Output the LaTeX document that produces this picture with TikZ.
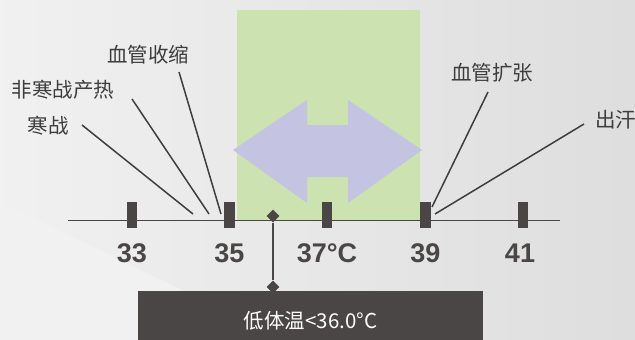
\documentclass[tikz,border=0pt]{standalone}
\usepackage{fontspec}
\setmainfont{Noto Sans CJK SC}
\newfontfamily\numfont{Liberation Sans}
\usepackage{xcolor}
\usepackage{tikz}
\usetikzlibrary{shapes.geometric, positioning}

\definecolor{bgmain}{HTML}{E7E7E7}
\definecolor{bglight}{HTML}{F1F1F1}
\definecolor{zonegreen}{HTML}{CCE2B0}
\definecolor{arrowlilac}{HTML}{C4C3E2}
\definecolor{darkbar}{HTML}{4A4646}
\definecolor{labelgray}{HTML}{3F3D3D}

\begin{document}
\begin{tikzpicture}[x=1pt, y=-1pt]
\tikzstyle{tickbar} = [rectangle, fill=darkbar, inner sep=0pt, minimum width=10.5pt, minimum height=26pt]
\tikzstyle{numlabel} = [text=darkbar, font=\numfont\bfseries\fontsize{27}{30}\selectfont, inner sep=0pt]
\tikzstyle{tag} = [text=labelgray, font=\fontsize{20.5}{24}\selectfont, inner sep=0pt]
\tikzstyle{leader} = [draw=labelgray, line width=1.5pt]
\tikzstyle{pin} = [diamond, fill=darkbar, inner sep=0pt, minimum size=13pt]

% background
\useasboundingbox (0,0) rectangle (635,340);
\shade[left color=bgmain!60!white, right color=bgmain!96!black] (0,0) rectangle (635,340);
\fill[bglight] (0,202) -- (285,340) -- (0,340) -- cycle;

% normal zone and double arrow
\fill[zonegreen] (237,10) rectangle (420,220);
\fill[arrowlilac] (233,150) -- (307,100) -- (307,125) -- (348,125) -- (348,100)
  -- (422,150) -- (348,203) -- (348,177) -- (307,177) -- (307,203) -- cycle;

% axis
\coordinate (axisL) at (68,220.5);
\coordinate (axisR) at (560,220.5);
\draw[darkbar, line width=1.6pt] (axisL) -- (axisR);

\node (t33) [tickbar] at (132,215) {};
\node (t35) [tickbar] at (229.5,215) {};
\node (t37) [tickbar] at (327,215) {};
\node (t39) [tickbar] at (425.5,215) {};
\node (t41) [tickbar] at (523,215) {};

\node (n33) [numlabel] at (132,253) {33};
\node (n35) [numlabel] at (229.5,253) {35};
\node (n37) [numlabel] at (327,253) {37°C};
\node (n39) [numlabel] at (425.5,253) {39};
\node (n41) [numlabel] at (520,253) {41};

% left labels
\node (shiver) [tag] at (48,126) {寒战};
\node (nonshiver) [tag] at (63,90) {非寒战产热};
\node (vcon) [tag] at (148,55) {血管收缩};
\coordinate (shiver-a) at (82,125);
\coordinate (shiver-b) at (193,214);
\coordinate (nonshiver-a) at (132,99);
\coordinate (nonshiver-b) at (209,214);
\coordinate (vcon-a) at (179,72);
\coordinate (vcon-b) at (221,214);
\draw [leader] (shiver-a) -- (shiver-b);
\draw [leader] (nonshiver-a) -- (nonshiver-b);
\draw [leader] (vcon-a) -- (vcon-b);

% right labels
\node (vdil) [tag] at (492,73) {血管扩张};
\node (sweat) [tag, anchor=west] at (595,120) {出汗};
\coordinate (vdil-a) at (488,92);
\coordinate (vdil-b) at (432,207);
\coordinate (sweat-a) at (584,124);
\coordinate (sweat-b) at (435,214);
\draw [leader] (vdil-a) -- (vdil-b);
\draw [leader] (sweat-a) -- (sweat-b);

% hypothermia marker
\fill[darkbar] (138,291) rectangle (483,340);
\node (hypo) [text=white, font=\fontsize{20.5}{24}\selectfont, inner sep=0pt] at (310.5,321) {低体温<36.0°C};
\node (pintop) [pin] at (273,216) {};
\node (pinbot) [pin] at (273,287) {};
\draw [darkbar, line width=2.5pt] (pintop) -- (pinbot);

\end{tikzpicture}
\end{document}
